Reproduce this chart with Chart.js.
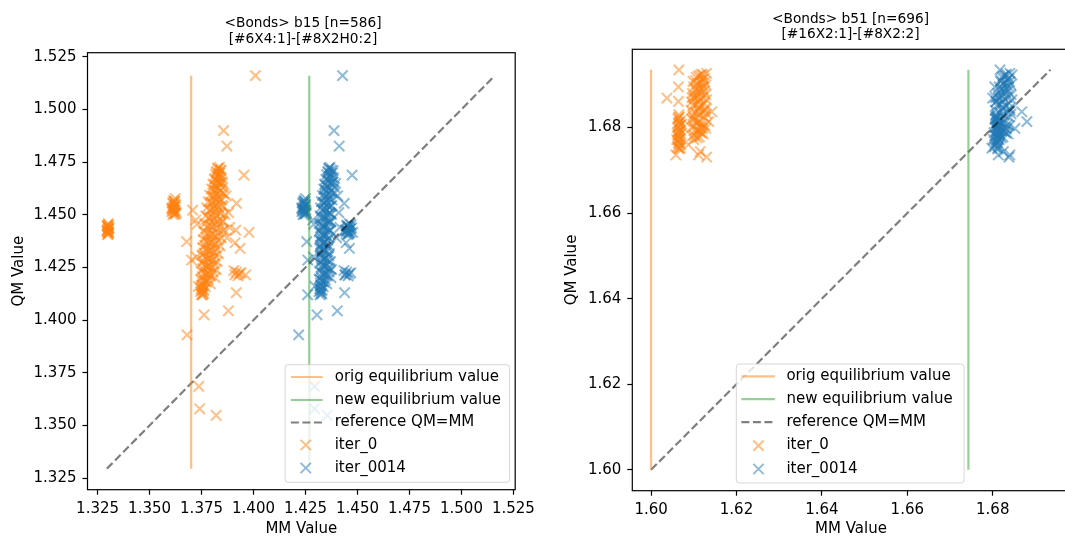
<!DOCTYPE html>
<html><head><meta charset="utf-8">
<script src="https://cdn.jsdelivr.net/npm/chart.js@4.4.1/dist/chart.umd.min.js"></script>
<style>
html,body{margin:0;padding:0;background:#fff;overflow:hidden;width:1065px;height:538px;position:relative;}
canvas{position:absolute;top:0;}
#c1{left:0;} #c2{left:540px;}
</style></head><body>
<canvas id="c1" width="540" height="538"></canvas>
<canvas id="c2" width="540" height="538"></canvas>
<script>
// ---------------- DATA: b15 ----------------
const b15_title = ['<Bonds> b15 [n=586]', '[#6X4:1]-[#8X2H0:2]'];
const b15_ticks = [1.325, 1.350, 1.375, 1.400, 1.425, 1.450, 1.475, 1.500, 1.525];
const b15_origEq = 1.3700;
const b15_newEq = 1.4268;
const b15_refRange = [1.3295, 1.5160];
const b15_qm = [
  1.4405,1.4418,1.4426,1.4434,1.4441,1.4447,1.4452,1.4412,1.4429,1.4438,1.4458,1.4420,
  1.4500,1.4508,1.4515,1.4521,1.4527,1.4533,1.4540,1.4546,1.4552,1.4560,1.4568,1.4577,1.4505,1.4530,1.4512,
  1.4725,1.4718,1.4712,1.4705,1.4698,1.4690,1.4683,1.4675,1.4668,1.4660,
  1.4652,1.4645,1.4638,1.4630,1.4622,1.4615,1.4608,1.4600,1.4592,1.4585,
  1.4578,1.4570,1.4562,1.4555,1.4548,1.4540,1.4532,1.4525,1.4518,1.4510,
  1.4502,1.4495,1.4488,1.4480,1.4472,1.4465,1.4458,1.4450,1.4442,1.4435,
  1.4428,1.4420,1.4412,1.4405,1.4398,1.4390,1.4382,1.4375,1.4368,1.4360,
  1.4352,1.4345,1.4338,1.4330,1.4322,1.4315,1.4308,1.4300,1.4292,1.4285,
  1.4278,1.4270,1.4262,1.4255,1.4248,1.4240,1.4232,1.4225,1.4218,1.4210,
  1.4202,1.4195,1.4188,1.4180,1.4172,1.4165,1.4158,1.4150,1.4142,1.4135,
  1.4128,1.4120,
  1.4235,1.4228,1.4220,1.4215,1.4225,1.4210,
  1.5160,1.4899,1.4826,1.4688,1.4554,1.4649,1.4416,1.4340,1.4367,1.4130,1.4044,
  1.4025,1.3930,1.3685,1.3579,1.3548,1.4120,1.4372,1.4285,1.4522,1.4214,1.4427,
  1.4721,1.4709,1.4701,1.4694,1.4679,1.4671,1.4656,1.4649,1.4641,1.4626,
  1.4619,1.4604,1.4597,1.4589,1.4574,1.4566,1.4559,1.4544,1.4536,1.4529,
  1.4521,1.4506,1.4499,1.4491,1.4484,1.4469,1.4461,1.4454,1.4446,1.4439,
  1.4424,1.4416,1.4409,1.4401,1.4394,1.4379,1.4371,1.4364,1.4356,1.4341,
  1.4334,1.4326,1.4319,1.4304,1.4296,1.4289,1.4281,1.4266,1.4259,1.4251,
  1.4244,1.4229,1.4221,1.4214,1.4206,1.4191,1.4184,1.4176,1.4161,1.4146,
  1.4139,1.4124,
  1.4409,1.4422,1.4432,1.4444,1.4450,1.4415,
  1.4503,1.4518,1.4524,1.4537,1.4549,1.4557,1.4563,
  1.4475,1.4455,1.4300,1.4160,1.4590,1.4510,1.4440,1.4390
];
const b15_mm_iter0 = [
  1.3298,1.3302,1.3296,1.3304,1.3300,1.3297,1.3303,1.3301,1.3299,1.3305,1.3301,1.3295,
  1.3612,1.3618,1.3608,1.3622,1.3615,1.3610,1.3620,1.3625,1.3613,1.3619,1.3616,1.3624,1.3626,1.3606,1.3628,
  1.3836,1.3829,1.3842,1.3824,1.3838,1.3818,1.3832,1.3845,1.3812,1.3826,
  1.3840,1.3805,1.3820,1.3852,1.3798,1.3815,1.3834,1.3858,1.3790,1.3808,
  1.3828,1.3846,1.3782,1.3800,1.3822,1.3855,1.3775,1.3795,1.3814,1.3838,
  1.3862,1.3770,1.3788,1.3808,1.3830,1.3850,1.3765,1.3784,1.3803,1.3825,
  1.3858,1.3760,1.3778,1.3798,1.3818,1.3845,1.3758,1.3775,1.3795,1.3815,
  1.3840,1.3755,1.3772,1.3790,1.3810,1.3832,1.3752,1.3768,1.3786,1.3805,
  1.3825,1.3750,1.3766,1.3782,1.3800,1.3820,1.3748,1.3762,1.3778,1.3795,
  1.3815,1.3746,1.3760,1.3775,1.3792,1.3750,1.3768,1.3748,1.3762,1.3745,
  1.3758,1.3750,
  1.3905,1.3918,1.3932,1.3910,1.3940,1.3925,
  1.4009,1.3856,1.3872,1.3954,1.3918,1.3850,1.3978,1.3935,1.3911,1.3917,1.3879,
  1.3762,1.3680,1.3737,1.3741,1.3820,1.3754,1.3678,1.3702,1.3707,1.3962,1.3914,
  1.3827,1.3843,1.3821,1.3833,1.3836,1.3815,1.3848,1.3833,1.3810,1.3830,
  1.3808,1.3850,1.3825,1.3802,1.3838,1.3815,1.3795,1.3848,1.3830,1.3808,
  1.3788,1.3842,1.3822,1.3800,1.3782,1.3852,1.3835,1.3815,1.3795,1.3775,
  1.3852,1.3830,1.3808,1.3788,1.3770,1.3828,1.3805,1.3785,1.3765,1.3820,
  1.3800,1.3780,1.3762,1.3815,1.3795,1.3776,1.3758,1.3810,1.3790,1.3773,
  1.3756,1.3805,1.3786,1.3770,1.3754,1.3783,1.3768,1.3753,1.3754,1.3752,
  1.3755,1.3758,
  1.3301,1.3297,1.3302,1.3299,1.3296,1.3303,
  1.3620,1.3614,1.3609,1.3617,1.3622,1.3611,1.3621,
  1.3722,1.3728,1.3725,1.3735,1.3868,1.3880,1.3885,1.3872
];
const b15_mm_iter0014 = [
  1.4452,1.4460,1.4447,1.4466,1.4457,1.4450,1.4469,1.4455,1.4452,1.4472,1.4461,1.4445,
  1.4238,1.4244,1.4233,1.4248,1.4240,1.4235,1.4246,1.4251,1.4239,1.4245,1.4242,1.4250,1.4253,1.4231,1.4254,
  1.4368,1.4362,1.4374,1.4357,1.4380,1.4352,1.4366,1.4385,1.4348,1.4360,
  1.4377,1.4342,1.4355,1.4390,1.4338,1.4350,1.4369,1.4388,1.4332,1.4345,
  1.4362,1.4378,1.4326,1.4338,1.4355,1.4372,1.4322,1.4334,1.4350,1.4366,
  1.4375,1.4320,1.4330,1.4344,1.4360,1.4372,1.4318,1.4328,1.4340,1.4355,
  1.4368,1.4316,1.4326,1.4338,1.4350,1.4364,1.4318,1.4325,1.4336,1.4348,
  1.4362,1.4320,1.4328,1.4338,1.4350,1.4365,1.4322,1.4330,1.4342,1.4355,
  1.4370,1.4320,1.4332,1.4345,1.4358,1.4375,1.4318,1.4330,1.4342,1.4356,
  1.4372,1.4316,1.4326,1.4338,1.4352,1.4322,1.4335,1.4318,1.4330,1.4315,
  1.4326,1.4320,
  1.4435,1.4448,1.4460,1.4442,1.4468,1.4455,
  1.4428,1.4387,1.4412,1.4474,1.4436,1.4395,1.4477,1.4461,1.4445,1.4438,1.4403,
  1.4305,1.4217,1.4293,1.4293,1.4354,1.4260,1.4256,1.4261,1.4251,1.4439,1.4440,
  1.4363,1.4383,1.4360,1.4371,1.4376,1.4355,1.4383,1.4372,1.4345,1.4365,
  1.4343,1.4382,1.4360,1.4341,1.4368,1.4350,1.4336,1.4376,1.4362,1.4345,
  1.4330,1.4368,1.4355,1.4340,1.4327,1.4370,1.4362,1.4348,1.4335,1.4325,
  1.4368,1.4358,1.4345,1.4332,1.4322,1.4356,1.4343,1.4331,1.4322,1.4358,
  1.4345,1.4333,1.4324,1.4362,1.4348,1.4336,1.4326,1.4352,1.4338,1.4326,
  1.4366,1.4364,1.4349,1.4336,1.4324,1.4345,1.4332,1.4321,1.4323,1.4322,
  1.4324,1.4328,
  1.4458,1.4452,1.4463,1.4455,1.4448,1.4464,
  1.4246,1.4240,1.4236,1.4243,1.4249,1.4237,1.4247,
  1.4285,1.4290,1.4288,1.4295,1.4405,1.4410,1.4415,1.4400
];

// ---------------- DATA: b51 ----------------
const b51_title = ['<Bonds> b51 [n=696]', '[#16X2:1]-[#8X2:2]'];
const b51_ticks = [1.60, 1.62, 1.64, 1.66, 1.68];
const b51_origEq = 1.6000;
const b51_newEq = 1.6743;
const b51_refRange = [1.6000, 1.6935];
const b51_qm = [
  1.6825,1.6820,1.6815,1.6810,1.6805,1.6800,1.6795,1.6790,1.6785,1.6780,
  1.6775,1.6770,1.6765,1.6760,1.6755,1.6750,1.6830,1.6788,1.6808,1.6772,
  1.6925,1.6920,1.6915,1.6910,1.6905,1.6900,1.6895,1.6890,1.6885,1.6880,
  1.6875,1.6870,1.6865,1.6860,1.6855,1.6850,1.6845,1.6840,1.6835,1.6830,
  1.6825,1.6820,1.6815,1.6810,1.6805,1.6800,1.6795,1.6790,1.6785,1.6780,
  1.6776,1.6772,1.6797,1.6817,1.6862,1.6892,1.6908,1.6842,1.6828,1.6868,
  1.6935,1.6895,1.6869,1.6861,1.6752,1.6736,1.6760,1.6736,1.6731,1.6744,
  1.6837,1.6927,1.6814,1.6798,1.6923,
  1.6922,1.6917,1.6912,1.6907,1.6902,1.6897,1.6887,1.6882,1.6877,1.6872,
  1.6867,1.6857,1.6852,1.6847,1.6837,1.6832,1.6822,1.6812,1.6807,1.6802,
  1.6792,1.6787,1.6782,1.6778,1.6870,1.6890,1.6840,1.6800,
  1.6823,1.6813,1.6803,1.6793,1.6783,1.6773,1.6763,1.6753
];
const b51_mm_iter0 = [
  1.6066,1.6063,1.6068,1.6064,1.6069,1.6062,1.6067,1.6065,1.6070,1.6063,
  1.6068,1.6064,1.6066,1.6069,1.6062,1.6067,1.6065,1.6061,1.6071,1.6060,
  1.6118,1.6110,1.6124,1.6104,1.6116,1.6128,1.6100,1.6112,1.6124,1.6097,
  1.6108,1.6120,1.6130,1.6095,1.6106,1.6117,1.6127,1.6094,1.6104,1.6114,
  1.6124,1.6095,1.6106,1.6116,1.6126,1.6094,1.6104,1.6114,1.6122,1.6096,
  1.6108,1.6100,1.6120,1.6100,1.6113,1.6120,1.6098,1.6110,1.6098,1.6102,
  1.6065,1.6064,1.6037,1.6064,1.6064,1.6058,1.6087,1.6111,1.6130,1.6115,
  1.6142,1.6130,1.6135,1.6128,1.6122,
  1.6114,1.6106,1.6120,1.6126,1.6108,1.6122,1.6104,1.6118,1.6128,1.6100,
  1.6114,1.6124,1.6098,1.6111,1.6120,1.6130,1.6100,1.6110,1.6120,1.6100,
  1.6109,1.6118,1.6101,1.6113,1.6096,1.6106,1.6126,1.6116,
  1.6064,1.6066,1.6065,1.6069,1.6063,1.6066,1.6064,1.6068
];
const b51_mm_iter0014 = [
  1.6810,1.6806,1.6812,1.6808,1.6814,1.6805,1.6811,1.6809,1.6816,1.6806,
  1.6813,1.6808,1.6811,1.6815,1.6804,1.6812,1.6809,1.6803,1.6817,1.6802,
  1.6832,1.6825,1.6838,1.6820,1.6830,1.6842,1.6815,1.6826,1.6836,1.6812,
  1.6822,1.6834,1.6845,1.6808,1.6818,1.6830,1.6840,1.6806,1.6816,1.6826,
  1.6838,1.6808,1.6818,1.6828,1.6840,1.6810,1.6818,1.6828,1.6836,1.6812,
  1.6820,1.6815,1.6832,1.6812,1.6824,1.6833,1.6818,1.6822,1.6806,1.6814,
  1.6817,1.6805,1.6800,1.6808,1.6798,1.6813,1.6805,1.6840,1.6838,1.6825,
  1.6868,1.6840,1.6880,1.6852,1.6845,
  1.6829,1.6822,1.6835,1.6840,1.6824,1.6836,1.6818,1.6830,1.6843,1.6813,
  1.6827,1.6838,1.6810,1.6823,1.6833,1.6843,1.6812,1.6822,1.6834,1.6814,
  1.6822,1.6831,1.6816,1.6824,1.6807,1.6820,1.6841,1.6828,
  1.6807,1.6810,1.6809,1.6813,1.6806,1.6810,1.6808,1.6812
];

const seriesLabels = ['orig equilibrium value', 'new equilibrium value', 'reference QM=MM', 'iter_0', 'iter_0014'];

// ---------------- STYLE ----------------
const FONT = 'DejaVu Sans';
const C_ORANGE = 'rgba(255,127,14,0.5)';
const C_BLUE = 'rgba(31,119,180,0.5)';
const C_GREEN = 'rgba(44,160,44,0.5)';
const C_REF = 'rgba(0,0,0,0.5)';
const MARK_R = 7.3;
const MARK_W = 2;

function pts(xs, ys) { return ys.map((y, i) => ({x: xs[i], y: y})); }

function buildDatasets(origEq, newEq, ref, qm, mm0, mm14) {
  return [
    {label: seriesLabels[0], data: [{x: origEq, y: ref[0]}, {x: origEq, y: ref[1]}], showLine: true,
     borderColor: C_ORANGE, borderWidth: 2.2, pointRadius: 0, backgroundColor: C_ORANGE},
    {label: seriesLabels[1], data: [{x: newEq, y: ref[0]}, {x: newEq, y: ref[1]}], showLine: true,
     borderColor: C_GREEN, borderWidth: 2.2, pointRadius: 0, backgroundColor: C_GREEN},
    {label: seriesLabels[2], data: [{x: ref[0], y: ref[0]}, {x: ref[1], y: ref[1]}], showLine: true,
     borderColor: C_REF, borderWidth: 2.2, borderDash: [8, 3.5], pointRadius: 0, backgroundColor: C_REF},
    {label: seriesLabels[3], data: pts(mm0, qm), pointStyle: 'crossRot', pointRadius: MARK_R,
     pointBorderWidth: MARK_W, borderColor: C_ORANGE, backgroundColor: C_ORANGE, showLine: false},
    {label: seriesLabels[4], data: pts(mm14, qm), pointStyle: 'crossRot', pointRadius: MARK_R,
     pointBorderWidth: MARK_W, borderColor: C_BLUE, backgroundColor: C_BLUE, showLine: false}
  ];
}

function axis(min, max, tickVals, dec, label, isX, titlePad, fitSize) {
  return {
    type: 'linear', min: min, max: max,
    afterBuildTicks: s => { s.ticks = tickVals.map(v => ({value: v})); },
    afterFit: s => { if (isX) s.height = fitSize; else s.width = fitSize; },
    ticks: {font: {family: FONT, size: 15}, color: '#000', padding: isX ? 5 : 6,
            autoSkip: false, maxRotation: 0, minRotation: 0,
            callback: v => Number(v).toFixed(dec)},
    grid: {drawOnChartArea: false, drawTicks: true, tickLength: 5, tickColor: '#000', tickWidth: 1.2, color: '#000'},
    border: {display: false},
    title: {display: true, text: label, font: {family: FONT, size: 15}, color: '#000', padding: titlePad}
  };
}

const decor = {
  id: 'decor',
  afterDatasetsDraw(chart, args, o) {
    const ctx = chart.ctx, a = chart.chartArea;
    ctx.save();
    ctx.strokeStyle = '#000'; ctx.lineWidth = 1.2;
    ctx.strokeRect(a.left, a.top, a.right - a.left, a.bottom - a.top);
    const L = o.legend;
    const r = 3;
    ctx.beginPath();
    ctx.moveTo(L.x0 + r, L.y0);
    ctx.lineTo(L.x1 - r, L.y0); ctx.arcTo(L.x1, L.y0, L.x1, L.y0 + r, r);
    ctx.lineTo(L.x1, L.y1 - r); ctx.arcTo(L.x1, L.y1, L.x1 - r, L.y1, r);
    ctx.lineTo(L.x0 + r, L.y1); ctx.arcTo(L.x0, L.y1, L.x0, L.y1 - r, r);
    ctx.lineTo(L.x0, L.y0 + r); ctx.arcTo(L.x0, L.y0, L.x0 + r, L.y0, r);
    ctx.closePath();
    ctx.fillStyle = 'rgba(255,255,255,0.8)'; ctx.fill();
    ctx.strokeStyle = 'rgba(204,204,204,0.8)'; ctx.lineWidth = 1; ctx.stroke();
    chart.data.datasets.forEach((ds, i) => {
      const y = L.rows[i];
      if (ds.showLine) {
        ctx.beginPath(); ctx.setLineDash(ds.borderDash || []);
        ctx.strokeStyle = ds.borderColor; ctx.lineWidth = ds.borderWidth;
        ctx.moveTo(L.hx0, y); ctx.lineTo(L.hx1, y); ctx.stroke(); ctx.setLineDash([]);
      } else {
        const h = ds.pointRadius * Math.SQRT1_2;
        ctx.beginPath(); ctx.strokeStyle = ds.borderColor; ctx.lineWidth = ds.pointBorderWidth;
        ctx.moveTo(L.mx - h, y - h); ctx.lineTo(L.mx + h, y + h);
        ctx.moveTo(L.mx + h, y - h); ctx.lineTo(L.mx - h, y + h); ctx.stroke();
      }
      ctx.fillStyle = '#000'; ctx.font = '15px "' + FONT + '"';
      ctx.textAlign = 'left'; ctx.textBaseline = 'middle';
      ctx.fillText(ds.label, L.tx, y);
    });
    ctx.restore();
  },
  afterDraw(chart, args, o) {
    const ctx = chart.ctx;
    ctx.save();
    ctx.fillStyle = '#000'; ctx.font = '13.7px "' + FONT + '"';
    ctx.textAlign = 'center'; ctx.textBaseline = 'middle';
    o.title.forEach((t, i) => ctx.fillText(t, o.titleX, o.titleY[i]));
    ctx.restore();
  }
};

function makeChart(id, cfg) {
  return new Chart(document.getElementById(id), {
    type: 'scatter',
    data: {datasets: buildDatasets(cfg.origEq, cfg.newEq, cfg.ref, cfg.qm, cfg.mm0, cfg.mm14)},
    options: {
      responsive: false, animation: false, events: [],
      layout: {padding: cfg.padding},
      plugins: {legend: {display: false}, tooltip: {enabled: false}, title: {display: false},
                decor: cfg.decor},
      scales: {
        x: axis(cfg.xr[0], cfg.xr[1], cfg.ticks, cfg.dec, 'MM Value', true, {top: 0, bottom: cfg.xTitlePad}, cfg.xH),
        y: axis(cfg.yr[0], cfg.yr[1], cfg.ticks, cfg.dec, 'QM Value', false, {top: cfg.yTitlePad, bottom: 0}, cfg.yW)
      }
    },
    plugins: [decor]
  });
}

makeChart('c1', {
  origEq: b15_origEq, newEq: b15_newEq, ref: b15_refRange,
  qm: b15_qm, mm0: b15_mm_iter0, mm14: b15_mm_iter0014,
  ticks: b15_ticks, dec: 3,
  xr: [1.32015, 1.52585], yr: [1.3195, 1.5269],
  padding: {left: 0, right: 21.7, top: 52.7, bottom: 0},
  xH: 48.3, yW: 87.5, xTitlePad: 0, yTitlePad: 10,
  decor: {title: b15_title, titleX: 303, titleY: [23.3, 39.3],
          legend: {x0: 285.1, x1: 509.6, y0: 364.7, y1: 482.3,
                   rows: [377, 400, 422.5, 445, 468], hx0: 290.9, hx1: 322.6, mx: 305.7, tx: 334.7}}
});

makeChart('c2', {
  origEq: b51_origEq, newEq: b51_newEq, ref: b51_refRange,
  qm: b51_qm, mm0: b51_mm_iter0, mm14: b51_mm_iter0014,
  ticks: b51_ticks, dec: 2,
  xr: [1.5956, 1.6980], yr: [1.5951, 1.6983],
  padding: {left: 0, right: 10.4, top: 49.3, bottom: 0},
  xH: 47.3, yW: 92.3, xTitlePad: 0, yTitlePad: 23,
  decor: {title: b51_title, titleX: 310.5, titleY: [19, 34.3],
          legend: {x0: 196.3, x1: 424.1, y0: 364, y1: 483,
                   rows: [376.3, 399.2, 422.2, 445.6, 469], hx0: 201.4, hx1: 234.8, mx: 218.5, tx: 246.4}}
});
</script>
</body></html>
